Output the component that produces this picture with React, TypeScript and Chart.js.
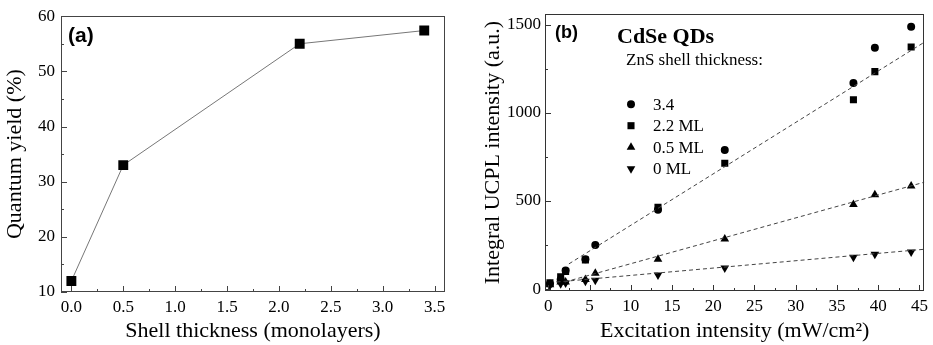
import React, { useEffect, useRef } from "react";
import { Chart, registerables } from "chart.js";

Chart.register(...registerables);

// ---------- Panel (a) data ----------
const shellThickness = [0, 0.5, 2.2, 3.4];
const quantumYield = [12, 33, 55, 57.4];
const qyXTicks = [0, 0.5, 1.0, 1.5, 2.0, 2.5, 3.0, 3.5];
const qyXMinor = [0.25, 0.75, 1.25, 1.75, 2.25, 2.75, 3.25];
const qyYTicks = [10, 20, 30, 40, 50, 60];
const qyYMinor = [15, 25, 35, 45, 55];

// ---------- Panel (b) data ----------
const excitation = [0.2, 1.5, 2.1, 4.5, 5.7, 13.3, 21.4, 37, 39.6, 44];
const ucpl34 = [30, 55, 105, 170, 250, 450, 790, 1170, 1370, 1490];
const ucpl22 = [35, 70, 100, 165, null, 465, 715, 1075, 1235, 1375];
const ucpl05 = [25, 40, 40, 55, 90, 170, 285, 480, 535, 585];
const ucpl0 = [22, 30, 35, 45, 50, 80, 120, 180, 198, 210];
const seriesLabels = ["3.4", "2.2 ML", "0.5 ML", "0 ML"];

// linear fit lines (endpoints)
const fitHighX = [2.5, 45.6];
const fitHighY = [143, 1402];
const fitMidX = [2.0, 45.6];
const fitMidY = [40, 607];
const fitLowX = [1.0, 45.6];
const fitLowY = [40, 226];

const ucplXTicks = [0, 5, 10, 15, 20, 25, 30, 35, 40, 45];
const ucplXMinor = [2.5, 7.5, 12.5, 17.5, 22.5, 27.5, 32.5, 37.5, 42.5];
const ucplYTicks = [0, 500, 1000, 1500];
const ucplYMinor = [250, 750, 1250];

const SERIF = "'Liberation Serif', 'Times New Roman', serif";
const SANS = "'Liberation Sans', Arial, sans-serif";

const pts = (xs: number[], ys: (number | null)[]) =>
  xs.map((x, i) => ({ x, y: ys[i] })).filter((p) => p.y !== null);

function drawMarker(ctx: CanvasRenderingContext2D, style: string, x: number, y: number, r: number) {
  ctx.beginPath();
  if (style === "circle") {
    ctx.arc(x, y, r, 0, Math.PI * 2);
  } else if (style === "rect") {
    const s = r * Math.SQRT1_2;
    ctx.rect(x - s, y - s, 2 * s, 2 * s);
  } else if (style === "triangle" || style === "triangleDown") {
    const sign = style === "triangle" ? 1 : -1;
    let a = 0;
    for (let i = 0; i < 3; i++) {
      const px = x + Math.sin(a) * r;
      const py = y - sign * Math.cos(a) * r;
      if (i === 0) ctx.moveTo(px, py);
      else ctx.lineTo(px, py);
      a += (2 * Math.PI) / 3;
    }
    ctx.closePath();
  }
  ctx.fill();
}

const frameTicks = {
  id: "frameTicks",
  afterDatasetsDraw(chart: any, _args: any, opts: any) {
    const { ctx, chartArea: ca } = chart;
    const xs = chart.scales.x;
    const ys = chart.scales.y;
    ctx.save();
    ctx.strokeStyle = opts.color || "#333";
    ctx.lineWidth = 1;
    ctx.beginPath();
    const major = 6;
    const minor = 3;
    xs.ticks.forEach((t: any) => {
      const px = Math.round(xs.getPixelForValue(t.value)) + 0.5;
      ctx.moveTo(px, ca.bottom);
      ctx.lineTo(px, ca.bottom - major);
    });
    (opts.xMinor || []).forEach((v: number) => {
      const px = Math.round(xs.getPixelForValue(v)) + 0.5;
      ctx.moveTo(px, ca.bottom);
      ctx.lineTo(px, ca.bottom - minor);
    });
    ys.ticks.forEach((t: any) => {
      const py = Math.round(ys.getPixelForValue(t.value)) + 0.5;
      ctx.moveTo(ca.left, py);
      ctx.lineTo(ca.left + major, py);
    });
    (opts.yMinor || []).forEach((v: number) => {
      const py = Math.round(ys.getPixelForValue(v)) + 0.5;
      ctx.moveTo(ca.left, py);
      ctx.lineTo(ca.left + minor, py);
    });
    ctx.stroke();
    ctx.strokeRect(Math.round(ca.left) + 0.5, Math.round(ca.top) + 0.5, Math.round(ca.width) - 1, Math.round(ca.height) - 1);
    ctx.restore();
  },
};

const annotations = {
  id: "annotations",
  afterDraw(chart: any, _args: any, opts: any) {
    const { ctx, chartArea: ca } = chart;
    ctx.save();
    ctx.fillStyle = "#000";
    ctx.textBaseline = "middle";
    ctx.textAlign = "left";
    (opts.texts || []).forEach((t: any) => {
      ctx.font = t.font;
      ctx.fillText(t.text, ca.left + t.dx, ca.top + t.dy);
    });
    if (opts.legend) {
      const lg = opts.legend;
      ctx.font = lg.font;
      const items = chart.data.datasets.filter((d: any) => d.inLegend);
      items.forEach((d: any, i: number) => {
        const y = ca.top + lg.dy + i * lg.step;
        ctx.fillStyle = "#000";
        drawMarker(ctx, d.markerName, ca.left + lg.dxMarker, y, d.pointRadius);
        ctx.fillText(d.label, ca.left + lg.dxText, y + 1);
      });
    }
    ctx.restore();
  },
};

const tickFont = { family: SERIF, size: 17 };
const titleFont = { family: SERIF, size: 22 };

function makeLeft(canvas: HTMLCanvasElement) {
  return new Chart(canvas, {
    type: "scatter",
    data: {
      datasets: [
        {
          label: "Quantum yield",
          data: pts(shellThickness, quantumYield),
          showLine: true,
          borderColor: "#777",
          borderWidth: 1,
          backgroundColor: "#000",
          pointBackgroundColor: "#000",
          pointBorderColor: "#000",
          pointBorderWidth: 0,
          pointStyle: "rect",
          pointRadius: 7,
        },
      ],
    },
    options: {
      responsive: false,
      animation: false,
      layout: { padding: { left: 0, top: 9, right: 21, bottom: 0 } },
      plugins: {
        legend: { display: false },
        tooltip: { enabled: false },
        frameTicks: { xMinor: qyXMinor, yMinor: qyYMinor, color: "#444" },
        annotations: {
          texts: [{ text: "(a)", font: `bold 21px ${SANS}`, dx: 7, dy: 20 }],
        },
      } as any,
      scales: {
        x: {
          type: "linear",
          min: -0.1,
          max: 3.6,
          afterBuildTicks: (s: any) => {
            s.ticks = qyXTicks.map((value) => ({ value }));
          },
          afterFit: (s: any) => {
            s.height = 53;
          },
          grid: { display: false, drawTicks: false },
          border: { display: false },
          ticks: {
            font: tickFont,
            color: "#000",
            padding: 5,
            maxRotation: 0,
            autoSkip: false,
            callback: (v: any) => Number(v).toFixed(1),
          },
          title: {
            display: true,
            text: "Shell thickness (monolayers)",
            font: titleFont,
            color: "#000",
            padding: { top: 0, bottom: 1 },
          },
        },
        y: {
          type: "linear",
          min: 10,
          max: 60,
          afterBuildTicks: (s: any) => {
            s.ticks = qyYTicks.map((value) => ({ value }));
          },
          afterFit: (s: any) => {
            s.width = 61;
          },
          grid: { display: false, drawTicks: false },
          border: { display: false },
          ticks: { font: tickFont, color: "#000", padding: 6, autoSkip: false },
          title: {
            display: true,
            text: "Quantum yield (%)",
            font: titleFont,
            color: "#000",
            padding: { top: 2, bottom: 0 },
          },
        },
      },
    },
    plugins: [frameTicks, annotations],
  } as any);
}

function makeRight(canvas: HTMLCanvasElement) {
  const fitLine = (xs: number[], ys: number[]) => ({
    type: "line",
    data: pts(xs, ys),
    borderColor: "#444",
    borderWidth: 1,
    borderDash: [4, 3],
    pointRadius: 0,
    fill: false,
    inLegend: false,
  });
  const series = (label: string, ys: (number | null)[], style: string, rot: number, r: number, markerName: string) => ({
    label,
    data: pts(excitation, ys),
    pointStyle: style,
    pointRotation: rot,
    pointRadius: r,
    pointBackgroundColor: "#000",
    pointBorderColor: "#000",
    pointBorderWidth: 0,
    backgroundColor: "#000",
    borderColor: "#000",
    showLine: false,
    inLegend: true,
    markerName,
  });
  return new Chart(canvas, {
    type: "scatter",
    data: {
      datasets: [
        fitLine(fitHighX, fitHighY),
        fitLine(fitMidX, fitMidY),
        fitLine(fitLowX, fitLowY),
        series(seriesLabels[0], ucpl34, "circle", 0, 4, "circle"),
        series(seriesLabels[1], ucpl22, "rect", 0, 5, "rect"),
        series(seriesLabels[2], ucpl05, "triangle", 0, 5, "triangle"),
        series(seriesLabels[3], ucpl0, "triangle", 180, 5, "triangleDown"),
      ],
    },
    options: {
      responsive: false,
      animation: false,
      layout: { padding: { left: 0, top: 7, right: 8, bottom: 0 } },
      plugins: {
        legend: { display: false },
        tooltip: { enabled: false },
        frameTicks: { xMinor: ucplXMinor, yMinor: ucplYMinor, color: "#333" },
        annotations: {
          texts: [
            { text: "(b)", font: `bold 18px ${SANS}`, dx: 10, dy: 19 },
            { text: "CdSe QDs", font: `bold 22px ${SERIF}`, dx: 72, dy: 23 },
            { text: "ZnS shell thickness:", font: `17px ${SERIF}`, dx: 81, dy: 46 },
          ],
          legend: { font: `17px ${SERIF}`, dxMarker: 86, dxText: 108, dy: 90, step: 21.5 },
        },
      } as any,
      scales: {
        x: {
          type: "linear",
          min: -0.4,
          max: 45.6,
          afterBuildTicks: (s: any) => {
            s.ticks = ucplXTicks.map((value) => ({ value }));
          },
          afterFit: (s: any) => {
            s.height = 54;
          },
          grid: { display: false, drawTicks: false },
          border: { display: false },
          ticks: {
            font: tickFont,
            color: "#000",
            padding: 5,
            maxRotation: 0,
            autoSkip: false,
            callback: (v: any) => String(v),
          },
          title: {
            display: true,
            text: "Excitation intensity (mW/cm²)",
            font: titleFont,
            color: "#000",
            padding: { top: 0, bottom: 1 },
          },
        },
        y: {
          type: "linear",
          min: -11,
          max: 1561,
          afterBuildTicks: (s: any) => {
            s.ticks = ucplYTicks.map((value) => ({ value }));
          },
          afterFit: (s: any) => {
            s.width = 79;
          },
          grid: { display: false, drawTicks: false },
          border: { display: false },
          ticks: {
            font: tickFont,
            color: "#000",
            padding: 4,
            autoSkip: false,
            callback: (v: any) => String(v),
          },
          title: {
            display: true,
            text: "Integral UCPL intensity (a.u.)",
            font: titleFont,
            color: "#000",
            padding: { top: 14, bottom: 0 },
          },
        },
      },
    },
    plugins: [frameTicks, annotations],
  } as any);
}

export default function App() {
  const leftRef = useRef<HTMLCanvasElement>(null);
  const rightRef = useRef<HTMLCanvasElement>(null);
  useEffect(() => {
    const a = makeLeft(leftRef.current!);
    const b = makeRight(rightRef.current!);
    return () => {
      a.destroy();
      b.destroy();
    };
  }, []);
  return (
    <div style={{ position: "fixed", left: 0, top: 0, width: 933, height: 345, background: "#fff" }}>
      <canvas ref={leftRef} width={466} height={345} style={{ position: "absolute", left: 0, top: 0 }} />
      <canvas ref={rightRef} width={467} height={345} style={{ position: "absolute", left: 466, top: 0 }} />
    </div>
  );
}
